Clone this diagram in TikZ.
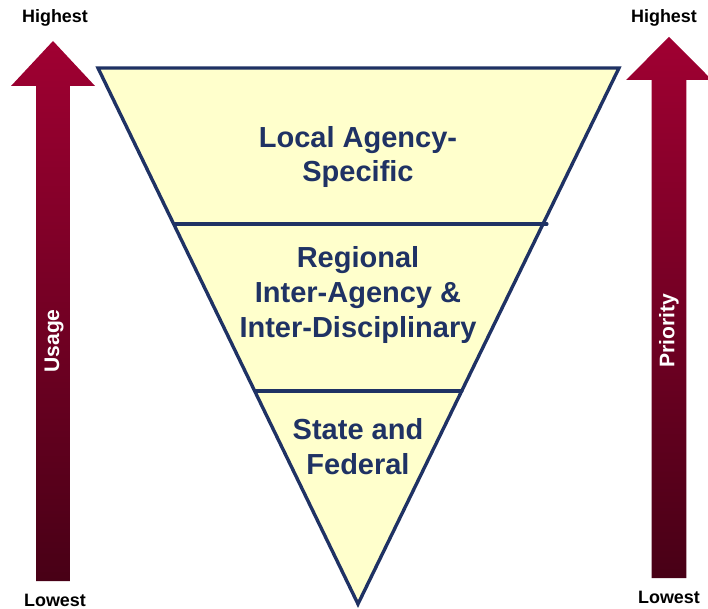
\documentclass[tikz,border=0pt]{standalone}
\usepackage{fontspec}
\setmainfont{Liberation Sans}
\usepackage{tikz}
\usepackage{tkz-euclide}
\usepackage{xcolor}
\definecolor{tiernavy}{RGB}{31,50,100}
\definecolor{tiercream}{RGB}{255,255,204}
\definecolor{scaletop}{RGB}{160,0,50}
\definecolor{scalebottom}{RGB}{72,0,22}
\tikzset{
	scalebar/.style={shade,top color=scaletop,bottom color=scalebottom,draw=none},
	scaleword/.style={font=\bfseries\fontsize{17}{20}\selectfont,text=black},
	scalename/.style={font=\bfseries\fontsize{20}{24}\selectfont,text=white,rotate=90},
	tierword/.style={font=\bfseries\fontsize{27.5}{33}\selectfont,text=tiernavy,align=center}
}

\begin{document}
\begin{tikzpicture}
	\useasboundingbox (0,0) rectangle (23.6,20.3);
	\tkzDefPoints{3.267/18.033/A,20.633/18.033/B,11.933/0.167/C}
	\tkzDefPoints{5.833/12.833/P,18.233/12.833/Q,8.5/7.267/R,15.4/7.267/S}
	\tkzFillPolygon[fill=tiercream](A,B,C)
	\tkzDrawSegments[tiernavy,line width=3pt](P,Q R,S)
	\tkzDrawPolygon[tiernavy,line width=3.2pt,line join=miter](A,B,C)
	\path[scalebar] (1.767,18.933) -- (3.167,17.433) -- (2.333,17.433) -- (2.333,0.933)
		-- (1.2,0.933) -- (1.2,17.433) -- (0.367,17.433) -- cycle;
	\path[scalebar] (22.3,19.067) -- (23.733,17.633) -- (22.883,17.633) -- (22.883,1.033)
		-- (21.717,1.033) -- (21.717,17.633) -- (20.867,17.633) -- cycle;
	\node[scaleword] (usehigh) at (1.833,19.7) {Highest};
	\node[scaleword] (uselow) at (1.833,0.3) {Lowest};
	\node[scaleword] (prihigh) at (22.133,19.7) {Highest};
	\node[scaleword] (prilow) at (22.3,0.4) {Lowest};
	\node[scalename] (usage) at (1.8,8.933) {Usage};
	\node[scalename] (priority) at (22.3,9.267) {Priority};
	\node[tierword] (local) at (11.933,15.067) {Local Agency-\\Specific};
	\node[tierword] (regional) at (11.933,10.467) {Regional\\Inter-Agency \&\\Inter-Disciplinary};
	\node[tierword] (state) at (11.933,5.4) {State and\\Federal};
\end{tikzpicture}
\end{document}
